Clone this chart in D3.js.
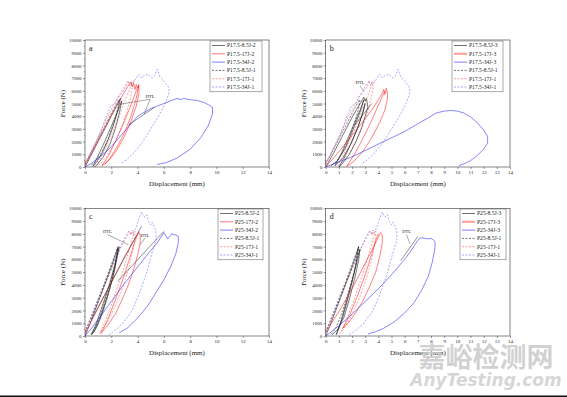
<!DOCTYPE html>
<html>
<head>
<meta charset="utf-8">
<script src="https://cdn.jsdelivr.net/npm/d3@7"></script>
<style>
  body { margin: 0; background: #fff; }
  svg { display: block; }
  text { font-family: "Liberation Serif", "Times New Roman", serif; }
</style>
</head>
<body>
<script>
// ---- data (displacement mm, force N) ----
const xTicksCoarse = [0, 2, 4, 6, 8, 10, 12, 14];
const xTicksFine = [0, 1, 2, 3, 4, 5, 6, 7, 8, 9, 10, 11, 12, 13, 14];
const yTicks = [0, 1000, 2000, 3000, 4000, 5000, 6000, 7000, 8000, 9000, 10000];

// P17.5 reference tests (-1), shared by panels a and b
const p175_85J1 = [[0,200],[0.5,1200],[1.0,2200],[1.5,3200],[2.0,4200],[2.4,5000],[2.6,5300],[2.5,4600],[2.2,3500],[1.8,2300],[1.3,1200],[0.8,400],[0.4,100]];
const p175_17J1 = [[0,300],[0.4,1100],[0.8,1900],[1.2,2800],[1.6,3700],[2.0,4500],[2.4,5300],[2.8,6000],[3.1,6500],[3.3,6800],[3.4,6400],[3.5,6700],[3.6,6300],[3.5,5600],[3.2,4400],[2.8,3200],[2.3,2000],[1.7,900],[1.2,300],[0.9,100],[1.4,1100],[2.0,2500],[2.6,4000],[3.1,5400],[3.5,6400],[3.7,6800]];
const p175_34J1 = [[0,400],[0.3,800],[0.7,1700],[1.2,2800],[1.6,3900],[1.9,4700],[2.1,4900],[2.3,5000],[2.6,5600],[3.0,6100],[3.3,6700],[3.6,6500],[3.9,7000],[4.1,7300],[4.3,7000],[4.5,7200],[4.8,7300],[5.1,7000],[5.3,7200],[5.5,7700],[5.7,7100],[5.9,6900],[6.1,6600],[6.3,6400],[6.4,6100],[6.35,5700],[6.1,5000],[5.6,4000],[5.0,3000],[4.4,2000],[3.8,1200],[3.2,600],[2.8,300]];

// panel a
const a_85J2 = [[0,0],[0.4,800],[0.9,1800],[1.4,2800],[1.9,3800],[2.4,4800],[2.7,5400],[2.6,4900],[2.4,4100],[2.1,3100],[1.7,2000],[1.3,1100],[0.9,400],[0.6,50],[1.0,900],[1.5,2000],[2.0,3200],[2.5,4400],[2.8,5200],[2.6,4200],[2.3,3000],[1.9,1800],[1.4,800],[0.9,150],[0.7,0]];
const a_17J2 = [[0,100],[0.5,1100],[1.0,2100],[1.5,3100],[2.0,4100],[2.5,5000],[3.0,5900],[3.3,6400],[3.5,6700],[3.6,6300],[3.7,6600],[3.8,6100],[3.9,6500],[4.0,6200],[4.1,6400],[4.1,5800],[3.9,4800],[3.5,3600],[3.0,2400],[2.4,1300],[1.8,500],[1.3,100],[1.8,900],[2.4,2200],[3.0,3600],[3.5,4900],[3.9,6000],[4.1,6500],[3.9,5400],[3.5,4000],[3.0,2700],[2.4,1500],[1.9,700],[1.5,200]];
const a_34J2 = [[0,0],[0.5,300],[1.0,700],[1.5,1100],[2.0,1600],[2.5,2200],[3.0,2800],[3.5,3400],[4.0,4000],[4.5,4300],[5.0,4600],[5.5,4800],[6.0,5000],[6.5,5200],[7.0,5400],[7.3,5300],[7.5,5400],[8.0,5300],[8.5,5250],[9.0,5100],[9.4,4900],[9.7,4700],[9.7,4200],[9.4,3300],[8.8,2300],[8.0,1400],[7.0,700],[6.2,350],[5.5,200]];
const a_dark = [[3.3,3300],[5.3,4700]];

// panel b
const b_85J3 = [[0,0],[0.5,900],[1.0,1900],[1.5,2900],[2.0,3900],[2.5,4800],[2.9,5500],[3.0,5200],[3.1,5400],[3.2,4700],[3.0,4000],[2.7,3000],[2.3,2000],[1.8,1000],[1.3,300],[1.0,0],[1.4,700],[1.9,1800],[2.4,3000],[2.8,4200],[3.0,5000],[2.8,4200],[2.4,3000],[1.9,1800],[1.3,700],[0.7,100],[1.2,1100],[1.7,2300],[2.2,3500],[2.7,4700],[2.9,5300],[2.6,4300],[2.1,3000],[1.5,1500],[0.9,500],[0.4,100]];
const b_17J3 = [[0,0],[1.0,1200],[2.0,2500],[3.0,3800],[3.5,4500],[4.0,5300],[4.3,5800],[4.4,6100],[4.5,5700],[4.6,6200],[4.7,5800],[4.7,5400],[4.5,4500],[4.1,3500],[3.5,2300],[2.8,1200],[2.1,400],[1.6,50],[2.3,1200],[3.0,2600],[3.6,3900],[4.1,5100],[4.5,6000]];
const b_34J3 = [[0,0],[1,400],[2,800],[3,1300],[4,1800],[5,2300],[6,2800],[7,3400],[8,4000],[8.3,4200],[8.4,4250],[8.6,4300],[9.0,4400],[9.5,4450],[10.0,4400],[10.5,4250],[11.0,3950],[11.5,3500],[12.0,2900],[12.3,2400],[12.3,1900],[12.0,1400],[11.5,900],[11.0,500],[10.5,250],[10.1,100]];
const b_dark = [[2.2,3300],[3.5,5000]];

// P25 reference tests (-1), shared by panels c and d
const p25_85J1 = [[0,300],[0.5,1600],[1.0,2900],[1.5,4200],[2.0,5600],[2.4,6700],[2.5,7000],[2.3,5600],[1.8,3700],[1.3,2000],[0.8,700],[0.4,100]];
const p25_17J1 = [[0,300],[0.4,1200],[0.8,2200],[1.2,3200],[1.6,4200],[2.0,5200],[2.4,6200],[2.8,7100],[3.1,7700],[3.3,8000],[3.4,8200],[3.5,7900],[3.6,8300],[3.7,8000],[3.8,8200],[3.8,7600],[3.6,6500],[3.3,5200],[2.9,3900],[2.4,2600],[1.9,1500],[1.4,600],[1.1,200],[1.6,1300],[2.2,3000],[2.8,4800],[3.3,6500],[3.7,8000]];
const p25_34J1 = [[0,300],[0.5,1500],[1.0,2800],[1.5,4100],[2.0,5300],[2.5,6500],[3.0,7600],[3.3,8200],[3.6,8000],[3.9,8500],[4.1,9200],[4.3,9700],[4.5,9300],[4.7,9500],[4.8,9000],[5.0,8700],[5.1,8900],[5.3,8500],[5.4,8200],[5.4,7500],[5.1,6500],[4.7,5000],[4.2,3500],[3.6,2000],[2.8,900],[2.1,300],[1.8,100]];

// panel c
const c_85J2 = [[0,0],[0.4,1000],[0.8,2100],[1.2,3200],[1.6,4300],[2.0,5400],[2.3,6300],[2.5,6900],[2.4,6200],[2.2,5000],[1.9,3800],[1.5,2500],[1.1,1300],[0.7,400],[0.5,100],[0.9,1100],[1.4,2600],[1.9,4200],[2.3,5700],[2.6,7000],[2.4,5900],[2.1,4500],[1.7,3000],[1.3,1700],[0.9,700],[0.6,200]];
const c_17J2 = [[0,200],[0.5,1200],[1.0,2200],[1.5,3200],[2.0,4200],[2.5,5200],[3.0,6200],[3.5,7100],[3.9,7800],[4.1,8100],[4.2,7900],[4.2,7300],[4.0,6300],[3.7,5200],[3.3,4000],[2.8,2800],[2.3,1700],[1.7,800],[1.2,200],[1.7,1200],[2.3,2800],[2.9,4500],[3.4,6100],[3.8,7400],[4.1,8200]];
const c_34J2 = [[0,0],[0.5,600],[1.0,1300],[2.0,2700],[3.0,4100],[4.0,5400],[5.0,6700],[5.5,7300],[6.0,8100],[6.3,7600],[6.6,8000],[6.9,7900],[7.1,7800],[7.1,7300],[6.9,6400],[6.5,5400],[6.0,4400],[5.4,3400],[4.8,2400],[4.0,1400],[3.2,600],[2.6,250]];
const c_dark = [[0.5,1300],[4.3,8600]];
const c_dark2 = [[2.5,4300],[6.0,8200]];

// panel d
const d_85J3 = [[0,0],[0.4,1000],[0.8,2100],[1.2,3200],[1.6,4300],[2.0,5400],[2.3,6300],[2.5,7000],[2.4,6300],[2.2,5100],[1.9,3800],[1.6,2600],[1.3,1500],[1.0,600],[0.8,100],[1.2,1300],[1.6,2800],[2.0,4300],[2.4,5900],[2.6,6800],[2.5,5900],[2.2,4500],[1.8,2900],[1.4,1500],[0.9,500],[0.5,100]];
const d_17J3 = [[0,300],[0.5,1100],[1.0,1900],[1.5,2800],[2.0,3700],[2.5,4700],[3.0,5700],[3.5,6700],[3.9,7500],[4.1,8000],[4.2,8100],[4.3,7900],[4.3,7300],[4.1,6200],[3.8,5000],[3.3,3800],[2.8,2700],[2.2,1700],[1.7,1000],[1.3,600],[1.8,1600],[2.4,3100],[3.0,4800],[3.5,6400],[3.8,7500],[4.0,8000]];
const d_34J3 = [[0,0],[0.5,400],[1.0,800],[2.0,1700],[3.0,2700],[4.0,3700],[5.0,4800],[6.0,6000],[6.5,6700],[7.0,7500],[7.2,7700],[7.5,7650],[7.8,7600],[8.0,7650],[8.2,7500],[8.3,7400],[8.3,6900],[8.1,5800],[7.8,4700],[7.3,3600],[6.7,2600],[6.0,1800],[5.2,1100],[4.4,600],[3.7,300],[3.2,150]];
const d_dark = [[5.7,5900],[7.0,7800]];

// DTL annotations: label position and leader targets (data units)
const a_dtl = [{ at: [4.95, 5450], to: [[2.7, 4950], [4.5, 4150]] }];
const b_dtl = [{ at: [2.6, 6500], to: [[2.9, 6000]] }];
const c_dtl = [{ at: [1.7, 8070], to: [[3.3, 7150]] }, { at: [4.55, 7780], to: [[4.2, 7150]] }];
const d_dtl = [{ at: [6.15, 8050], to: [[6.4, 7200]] }];

// ---- drawing ----
const W = 567, H = 397;
const svg = d3.select("body").append("svg").attr("width", W).attr("height", H);
svg.append("rect").attr("width", W).attr("height", H).attr("fill", "#fff");

const styles = {
  k: { color: "#1a1a1a", dash: null, op: 0.9 },
  r: { color: "#ff1a1a", dash: null, op: 0.85 },
  b: { color: "#2222ff", dash: null, op: 0.85 },
  kd: { color: "#222", dash: "2,1.5", op: 0.9 },
  rd: { color: "#ff4d4d", dash: "2,1.5", op: 0.8 },
  bd: { color: "#5a5aff", dash: "2,1.5", op: 0.8 }
};

const panels = [
  { tag: "a", left: 85, right: 269, top: 40, bottom: 167, xt: xTicksCoarse,
    leg: { x: 210, y: 41, w: 52 }, dark: [a_dark], dtl: a_dtl,
    series: [["P17.5-8.5J-2", a_85J2, "k"], ["P17.5-17J-2", a_17J2, "r"], ["P17.5-34J-2", a_34J2, "b"],
             ["P17.5-8.5J-1", p175_85J1, "kd"], ["P17.5-17J-1", p175_17J1, "rd"], ["P17.5-34J-1", p175_34J1, "bd"]] },
  { tag: "b", left: 325.7, right: 510, top: 40, bottom: 167, xt: xTicksFine,
    leg: { x: 452, y: 41, w: 51 }, dark: [b_dark], dtl: b_dtl, thick: true,
    series: [["P17.5-8.5J-3", b_85J3, "k"], ["P17.5-17J-3", b_17J3, "r"], ["P17.5-34J-3", b_34J3, "b"],
             ["P17.5-8.5J-1", p175_85J1, "kd"], ["P17.5-17J-1", p175_17J1, "rd"], ["P17.5-34J-1", p175_34J1, "bd"]] },
  { tag: "c", left: 85, right: 269, top: 208.3, bottom: 336, xt: xTicksCoarse,
    leg: { x: 218, y: 209, w: 45 }, dark: [c_dark, c_dark2], dtl: c_dtl,
    series: [["P25-8.5J-2", c_85J2, "k"], ["P25-17J-2", c_17J2, "r"], ["P25-34J-2", c_34J2, "b"],
             ["P25-8.5J-1", p25_85J1, "kd"], ["P25-17J-1", p25_17J1, "rd"], ["P25-34J-1", p25_34J1, "bd"]] },
  { tag: "d", left: 325.7, right: 510, top: 208.3, bottom: 336, xt: xTicksFine,
    leg: { x: 460, y: 209, w: 46 }, dark: [d_dark], dtl: d_dtl, thick: true,
    series: [["P25-8.5J-3", d_85J3, "k"], ["P25-17J-3", d_17J3, "r"], ["P25-34J-3", d_34J3, "b"],
             ["P25-8.5J-1", p25_85J1, "kd"], ["P25-17J-1", p25_17J1, "rd"], ["P25-34J-1", p25_34J1, "bd"]] }
];

panels.forEach((p, i) => {
  const x = d3.scaleLinear().domain([0, 14]).range([p.left, p.right]);
  const y = d3.scaleLinear().domain([0, 10000]).range([p.bottom, p.top]);
  const g = svg.append("g");

  g.append("clipPath").attr("id", "clip" + i)
    .append("rect").attr("x", p.left).attr("y", p.top)
    .attr("width", p.right - p.left).attr("height", p.bottom - p.top);

  // axes
  const xAxis = d3.axisBottom(x).tickValues(p.xt).tickSize(2).tickPadding(1.5).tickFormat(d3.format("d"));
  const yAxis = d3.axisLeft(y).tickValues(yTicks).tickSize(2).tickPadding(1.5).tickFormat(d3.format("d"));
  const gx = g.append("g").attr("transform", `translate(0,${p.bottom})`).call(xAxis);
  const gy = g.append("g").attr("transform", `translate(${p.left},0)`).call(yAxis);
  [gx, gy].forEach(a => {
    a.select(".domain").remove();
    a.selectAll("line").attr("stroke", "#333").attr("stroke-width", 0.5);
    a.selectAll("text").attr("font-size", 5).attr("fill", "#222")
      .style("font-family", '"Liberation Serif", serif');
  });
  // minor y ticks
  g.append("g").selectAll("line")
    .data(d3.range(500, 10000, 1000)).join("line")
    .attr("x1", p.left - 1).attr("x2", p.left)
    .attr("y1", d => y(d)).attr("y2", d => y(d))
    .attr("stroke", "#333").attr("stroke-width", 0.4);

  // frame
  g.append("rect").attr("x", p.left).attr("y", p.top)
    .attr("width", p.right - p.left).attr("height", p.bottom - p.top)
    .attr("fill", "none").attr("stroke", "#333").attr("stroke-width", 0.6);

  // titles
  g.append("text").attr("x", (p.left + p.right) / 2).attr("y", p.bottom + 19)
    .attr("text-anchor", "middle").attr("font-size", 7).attr("fill", "#222")
    .text("Displacement (mm)");
  g.append("text")
    .attr("transform", `translate(${p.left - 20},${(p.top + p.bottom) / 2}) rotate(-90)`)
    .attr("text-anchor", "middle").attr("font-size", 7).attr("fill", "#222")
    .text("Force (N)");
  g.append("text").attr("x", p.left + 4).attr("y", p.top + 11)
    .attr("font-size", 8).attr("fill", "#222").text(p.tag);

  // curves
  const line = d3.line().x(d => x(d[0])).y(d => y(d[1]));
  const plot = g.append("g").attr("clip-path", `url(#clip${i})`);
  const order = [3, 4, 5, 0, 1, 2];
  order.forEach(k => {
    const [name, data, st] = p.series[k];
    const s = styles[st];
    plot.append("path").datum(data).attr("d", line)
      .attr("fill", "none").attr("stroke", s.color).attr("stroke-width", 0.65)
      .attr("stroke-opacity", s.op).attr("stroke-linejoin", "round")
      .attr("stroke-dasharray", s.dash);
  });
  p.dark.forEach(dk => {
    plot.append("path").datum(dk).attr("d", line)
      .attr("fill", "none").attr("stroke", "#222").attr("stroke-width", 0.7).attr("stroke-opacity", 0.7);
  });

  // DTL annotations
  p.dtl.forEach(a => {
    a.to.forEach(t => {
      g.append("line")
        .attr("x1", x(a.at[0])).attr("y1", y(a.at[1]) + 1.5)
        .attr("x2", x(t[0])).attr("y2", y(t[1]))
        .attr("stroke", "#555").attr("stroke-width", 0.5);
    });
    g.append("text").attr("x", x(a.at[0])).attr("y", y(a.at[1]))
      .attr("text-anchor", "middle").attr("font-size", 4.5).attr("fill", "#222").text("DTL");
  });

  // legend
  const L = p.leg, rowH = 8.3;
  g.append("rect").attr("x", L.x).attr("y", L.y).attr("width", L.w).attr("height", rowH * 6 + 1)
    .attr("fill", "#fff").attr("stroke", "#555").attr("stroke-width", 0.5);
  p.series.forEach(([name, , st], k) => {
    const s = styles[st];
    const ly = L.y + 4.5 + k * rowH;
    const thick = p.thick && k === 1;
    g.append("line").attr("x1", L.x + 2).attr("x2", L.x + 15).attr("y1", ly).attr("y2", ly)
      .attr("stroke", s.color).attr("stroke-width", thick ? 2.2 : 0.7)
      .attr("stroke-opacity", thick ? 0.4 : s.op)
      .attr("stroke-dasharray", s.dash);
    g.append("text").attr("x", L.x + 17).attr("y", ly + 1.8)
      .attr("font-size", 5.6).attr("fill", "#222").text(name);
  });
});

// watermark and bottom rule
svg.append("text").attr("x", 486).attr("y", 367).attr("text-anchor", "middle")
  .attr("font-size", 27).attr("font-weight", "bold").attr("fill", "#c9c9c9")
  .attr("fill-opacity", 0.85)
  .style("font-family", '"Noto Sans CJK SC", sans-serif').text("嘉峪检测网");
svg.append("text").attr("x", 486).attr("y", 386).attr("text-anchor", "middle")
  .attr("font-size", 17).attr("font-weight", "bold").attr("font-style", "italic")
  .attr("fill", "#cfcfcf").attr("fill-opacity", 0.85)
  .style("font-family", '"DejaVu Sans", sans-serif').text("AnyTesting.com");
svg.append("rect").attr("x", 0).attr("y", 395.5).attr("width", W).attr("height", 1.5).attr("fill", "#111");
</script>
</body>
</html>
